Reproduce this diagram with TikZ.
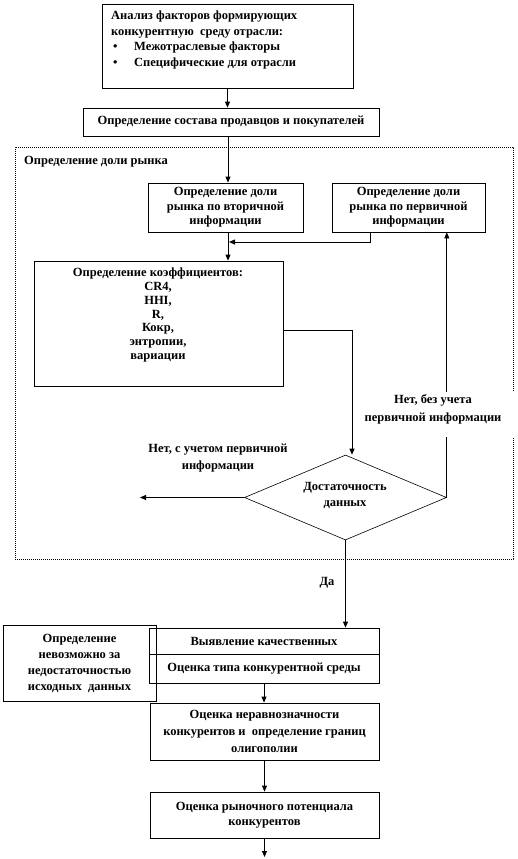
\documentclass[tikz,border=0pt]{standalone}
\usepackage{fontspec}
\setmainfont{Liberation Serif}
\usetikzlibrary{shapes.geometric,arrows.meta}
\newcommand\dfont{\fontsize{12.5}{14.5}\selectfont\bfseries}
\begin{document}
\begin{tikzpicture}[x=1pt,y=-1pt,
  box/.style={draw,line width=0.8pt,inner sep=0pt,align=center,font=\dfont},
  txt/.style={inner sep=0pt,align=center,font=\dfont},
  arr/.style={line width=0.8pt,-{Triangle[length=6pt,width=5pt]}},
  ln/.style={line width=0.8pt},
  frame/.style={draw,line width=0.7pt,dash pattern=on 0.8pt off 1.2pt,inner sep=0pt}]
\useasboundingbox (0,0) rectangle (517,859);
% dotted frame
\node[frame,minimum width=498,minimum height=412] (fr) at (264,353) {};
\node[txt,anchor=west] (frl) at (24,162) {Определение доли рынка};
% top boxes
\node[box,minimum width=251,minimum height=84] (b1) at (227.5,46) {};
\node[txt,align=left,anchor=north west,font=\fontsize{12.5}{15.5}\selectfont\bfseries] (b1t) at (111,11) {Анализ факторов формирующих\\
конкурентную\ \ среду отрасли:\\
\makebox[23pt][l]{\hspace{2pt}•}Межотраслевые факторы\\
\makebox[23pt][l]{\hspace{2pt}•}Специфические для отрасли};
\node[box,minimum width=296,minimum height=28] (b2) at (231,122) {Определение состава продавцов и покупателей};
\node[box,minimum width=155,minimum height=49] (b3) at (225.5,207.5) {Определение доли\\рынка по вторичной\\информации};
\node[box,minimum width=153,minimum height=49] (b4) at (408.5,207.5) {Определение доли\\рынка по первичной\\информации};
\node[box,minimum width=249,minimum height=125] (b5) at (158.5,323.5) {};
\node[txt,font=\fontsize{12.5}{13.7}\selectfont\bfseries] (b5t) at (158,315) {Определение коэффициентов:\\CR4,\\HHI,\\R,\\Кокр,\\энтропии,\\вариации};
% decision
\node[draw,diamond,line width=0.6pt,minimum width=202,minimum height=85,inner sep=0pt] (d) at (345.5,497.5) {};
\node[txt,font=\fontsize{12.5}{16}\selectfont\bfseries] (dt) at (345,495) {Достаточность\\данных};
\node[fill=white,minimum width=166,minimum height=45,inner sep=0pt,anchor=north] (l1bg) at (433,392) {};
\node[txt,font=\fontsize{12.5}{18}\selectfont\bfseries] (l1) at (433,409) {Нет, без учета\\первичной информации};
\node[txt,font=\fontsize{12.5}{17}\selectfont\bfseries] (l2) at (218,458) {Нет, с учетом первичной\\информации};
\node[txt] (yes) at (327,583) {Да};
% lower boxes
\node[box,minimum width=230,minimum height=26] (b6a) at (264,641) {Выявление качественных};
\node[box,minimum width=230,minimum height=29] (b6b) at (264,668.5) {Оценка типа конкурентной среды};
\node[box,minimum width=153,minimum height=76,font=\fontsize{12.5}{16}\selectfont\bfseries] (b7) at (79.5,663) {Определение\\невозможно за\\недостаточностью\\исходных\ \ данных};
\node[box,minimum width=229,minimum height=57,font=\fontsize{12.5}{17}\selectfont\bfseries] (b8) at (264.5,731.5) {Оценка неравнозначности\\конкурентов и\ \ определение границ\\олигополии};
\node[box,minimum width=229,minimum height=46] (b9) at (264.5,815) {Оценка рыночного потенциала\\конкурентов};
% connectors
\coordinate (cx) at (228,0);
\draw[arr] (b1.south) -- (b1.south |- b2.north);
\draw[arr] (b2.south -| cx) -- (b3.north -| cx);
\draw[arr] (b3.south -| cx) -- (b5.north -| cx);
\coordinate (m1) at (370,242);
\coordinate (m1e) at (229,242);
\draw[arr] (b4.south -| m1) -- (m1) -- (m1e);
\coordinate (m2) at (352,330);
\draw[arr] (b5.east |- m2) -- (m2) -- (m2 |- d.north);
\draw[ln] (d.east) -- (d.east |- l1bg.south);
\draw[arr] (d.east |- l1bg.north) -- (d.east |- b4.south);
\coordinate (lend) at (140,497.5);
\draw[arr] (d.west) -- (lend);
\draw[arr] (d.south) -- (d.south |- b6a.north);
\draw[arr] (b6b.south) -- (b6b.south |- b8.north);
\draw[arr] (b8.south) -- (b8.south |- b9.north);
\coordinate (endc) at (264.5,857);
\draw[arr] (b9.south) -- (endc);
\end{tikzpicture}
\end{document}
